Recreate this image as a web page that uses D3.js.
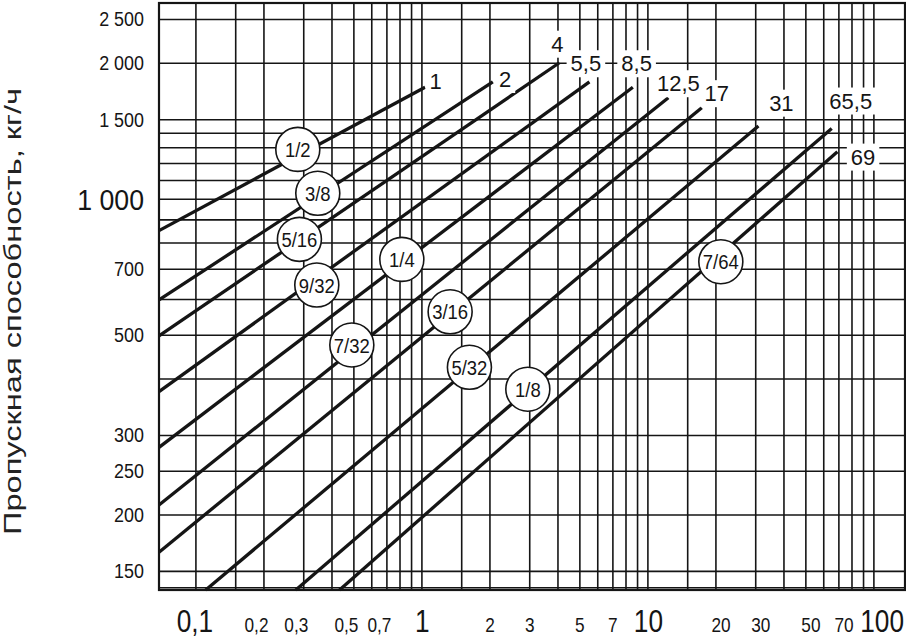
<!DOCTYPE html>
<html><head><meta charset="utf-8">
<script src="https://cdn.jsdelivr.net/npm/d3@7"></script>
<style>
html,body{margin:0;padding:0;background:#fff;}
svg{display:block;font-family:"Liberation Sans",Arial,Helvetica,sans-serif;}
</style></head><body>
<svg id="chart" width="906" height="638"></svg>
<script>
// ---------- data ----------
const xGridValues = [0.1,0.15,0.2,0.3,0.4,0.5,0.6,0.7,0.8,0.9,1,1.5,2,3,4,5,6,7,8,9,10,15,20,30,40,50,60,70,80,90,100];
const yGridValues = [138,150,200,250,300,400,500,600,700,800,900,1000,1100,1200,1300,1400,1500,2000,2500];
const xTickValues = [0.1,0.2,0.3,0.5,0.7,1,2,3,5,7,10,20,30,50,70,100];
const xTickLabels = ["0,1","0,2","0,3","0,5","0,7","1","2","3","5","7","10","20","30","50","70","100"];
const xMajorTicks = [0.1,1,10,100];
const yTickValues = [150,200,250,300,500,700,1000,1500,2000,2500];
const yTickLabels = ["150","200","250","300","500","700","1 000","1 500","2 000","2 500"];
const yMajorTicks = [1000];

// series: orifice size, end label (max pressure), line start/end (pressure, flow)
const orificeSizes = ["1/2","3/8","5/16","9/32","1/4","7/32","3/16","5/32","1/8","7/64"];
const endLabels    = ["1","2","4","5,5","8,5","12,5","17","31","65,5","69"];
const startP = [0.069,0.069,0.069,0.069,0.069,0.069,0.069,0.111,0.278,0.434];
const startQ = [850,597,497,374,281.6,209.9,165,136.1,136.1,136.1];
const endP   = [1.038,2.07,4.08,5.54,8.62,12.38,17.4,31.0,65.4,69.3];
const endQ   = [1765,1815,2000,1815,1765,1673,1590,1448,1431,1271];
// where the orifice-size circles sit (pressure, flow)
const sizeMarkP = [0.2838,0.3479,0.2885,0.3444,0.8191,0.4921,1.34,1.631,2.957,21.13];
const sizeMarkQ = [1286,1028,813,644,734,474.6,562,423.5,378.7,725.4];
// where the end labels sit (pressure, flow)
const endLabelP = [1.156,2.346,3.998,5.345,8.959,13.72,20.28,39.16,79.43,90.03];
const endLabelQ = [1824,1840,2203,1994,1994,1801,1712,1631,1649,1239];

const yTitle = "Пропускная способность, кг/ч";

// ---------- drawing ----------
const svg = d3.select("#chart");
const W = 906, H = 638;
const L = 159, R = 905, T = 3, B = 590;
const ink = "#151515";

const x = d3.scaleLog().domain([0.069, 138]).range([L, R]);
const y = d3.scaleLog().domain([136.1, 2712]).range([B, T]);

svg.append("rect").attr("width", W).attr("height", H).attr("fill", "#fff");

// horizontal condensing via scale transform (x positions compensated)
function squeeze(sel, k){
  sel.each(function(){
    const x0 = parseFloat(this.getAttribute("x") || 0);
    this.setAttribute("x", x0 / k);
    this.setAttribute("transform", `scale(${k},1)`);
  });
}

// grid
svg.append("g").attr("transform", `translate(0,${B})`)
  .call(d3.axisBottom(x).tickValues(xGridValues).tickSize(-(B - T)).tickFormat(""))
  .call(g => g.select(".domain").remove())
  .call(g => g.selectAll("line").attr("stroke", ink).attr("stroke-width", 1.6));
svg.append("g").attr("transform", `translate(${L},0)`)
  .call(d3.axisLeft(y).tickValues(yGridValues).tickSize(-(R - L)).tickFormat(""))
  .call(g => g.select(".domain").remove())
  .call(g => g.selectAll("line").attr("stroke", ink).attr("stroke-width", 1.6));

// frame
svg.append("rect").attr("x", L).attr("y", T).attr("width", R - L).attr("height", B - T)
  .attr("fill", "none").attr("stroke", ink).attr("stroke-width", 2.2);

// y tick labels
const yAxis = svg.append("g").attr("transform", `translate(${L},0)`)
  .call(d3.axisLeft(y).tickValues(yTickValues).tickSize(0).tickPadding(15)
        .tickFormat((d, i) => yTickLabels[i]));
yAxis.select(".domain").remove();
yAxis.selectAll("text")
  .attr("fill", ink)
  .attr("font-family", '"Liberation Sans",Arial,sans-serif')
  .attr("font-size", d => yMajorTicks.includes(d) ? 29 : 19.5)
  .attr("dy", "0.36em")
  .call(s => squeeze(s, 0.92));

// x tick labels
const xAxis = svg.append("g").attr("transform", `translate(0,${B})`)
  .call(d3.axisBottom(x).tickValues(xTickValues).tickSize(0)
        .tickFormat((d, i) => xTickLabels[i]));
xAxis.select(".domain").remove();
xAxis.selectAll("text")
  .attr("fill", ink)
  .attr("font-family", '"Liberation Sans",Arial,sans-serif')
  .attr("font-size", d => xMajorTicks.includes(d) ? 32 : 21)
  .attr("y", 42).attr("dy", null)
  .attr("text-anchor", d => {
    if (d === 100) return "end";
    if (xMajorTicks.includes(d)) return "middle";
    if (d < 1) return "end";
    if (d >= 20) return "start";
    return "middle";
  })
  .attr("x", d => {
    if (d === 100) return (R - 1.5) - x(d);
    if (xMajorTicks.includes(d)) return d === 0.1 ? -1 : 0.5;
    if (d < 1) return 4.5;
    if (d >= 20) return -4.5;
    return 0;
  })
  .call(s => squeeze(s, 0.82));

// end labels with white boxes
const labelG = svg.append("g");
const endTexts = labelG.selectAll("text.end").data(endLabels).join("text")
  .attr("class", "end")
  .attr("x", (d, i) => x(endLabelP[i]))
  .attr("y", (d, i) => y(endLabelQ[i]))
  .attr("dy", "0.36em")
  .attr("text-anchor", "middle")
  .attr("font-size", 22)
  .attr("fill", ink)
  .text(d => d);
endTexts.each(function(){
  const b = this.getBBox();
  labelG.insert("rect", "text")
    .attr("x", b.x - 4).attr("y", b.y - 1)
    .attr("width", b.width + 8).attr("height", b.height + 2)
    .attr("fill", "#fff");
});

// series lines
const lineGen = d3.line().x(d => x(d[0])).y(d => y(d[1]));
svg.append("g").selectAll("path").data(orificeSizes).join("path")
  .attr("d", (d, i) => lineGen([[startP[i], startQ[i]], [endP[i], endQ[i]]]))
  .attr("fill", "none").attr("stroke", ink).attr("stroke-width", 3.3)
  .attr("stroke-linecap", "butt");

// bring labels above lines
labelG.raise();

// orifice size circles
const mk = svg.append("g").selectAll("g").data(orificeSizes).join("g")
  .attr("transform", (d, i) => `translate(${x(sizeMarkP[i])},${y(sizeMarkQ[i])})`);
mk.append("circle").attr("r", 22).attr("fill", "#fff")
  .attr("stroke", ink).attr("stroke-width", 1.6);
mk.append("text").attr("text-anchor", "middle").attr("dy", "0.36em")
  .attr("font-size", 21).attr("fill", ink).text(d => d)
  .call(s => squeeze(s, 0.88));

// y title
svg.append("text")
  .attr("transform", "translate(21,311.5) rotate(-90)")
  .attr("text-anchor", "middle")
  .attr("font-size", 24)
  .attr("fill", "#222")
  .attr("textLength", 447)
  .attr("lengthAdjust", "spacingAndGlyphs")
  .text(yTitle);
</script>
</body></html>
